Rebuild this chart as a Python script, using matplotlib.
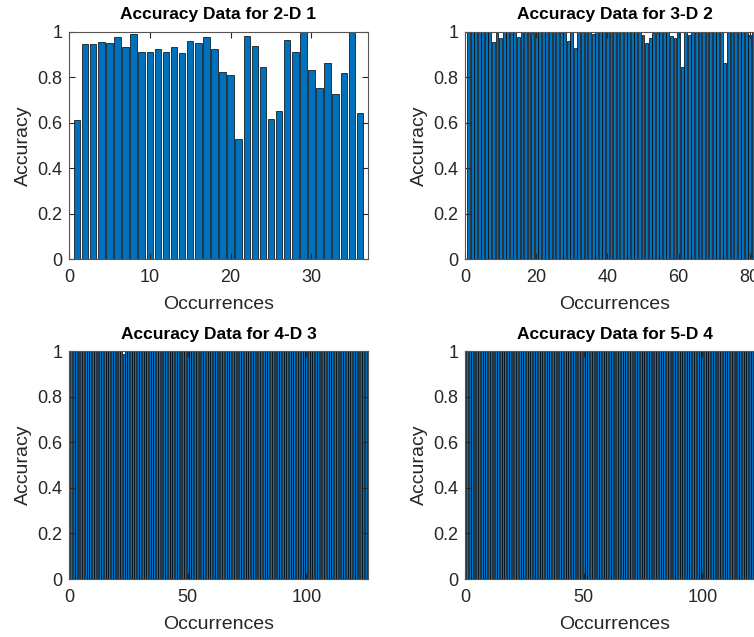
import numpy as np
import matplotlib
matplotlib.use("Agg")
import matplotlib.pyplot as plt

plt.rcParams['font.family'] = ['Liberation Sans', 'DejaVu Sans']

# accuracy per occurrence
acc_2d = [0.612, 0.947, 0.947, 0.954, 0.951, 0.976, 0.934, 0.991, 0.913, 0.913,
          0.927, 0.910, 0.935, 0.906, 0.959, 0.951, 0.976, 0.924, 0.822, 0.811,
          0.529, 0.984, 0.938, 0.846, 0.617, 0.653, 0.966, 0.910, 1.000, 0.833,
          0.755, 0.865, 0.727, 0.818, 1.000, 0.645]

acc_3d = [1, 1, 1, 1, 1, 1, 1, 0.957, 1, 0.972,
          1, 1, 1, 1, 0.977, 1, 1, 1, 0.997, 1,
          1, 1, 1, 1, 1, 1, 1, 1, 0.962, 1,
          0.928, 1, 1, 1, 1, 0.991, 1, 1, 1, 1,
          1, 1, 1, 1, 1, 1, 1, 1, 1, 0.987,
          0.953, 0.972, 0.994, 0.994, 1, 1, 1, 0.982, 0.972, 1,
          0.847, 1, 0.987, 1, 1, 1, 1, 1, 1, 1,
          1, 1, 0.862, 1, 1, 1, 1, 1, 1, 0.987,
          1, 1, 1]

acc_4d = [1, 1, 1, 1, 1, 1, 1, 1, 1, 1,
          1, 1, 1, 1, 1, 1, 1, 1, 1, 1,
          1, 1, 0.988, 1, 1, 1, 1, 1, 1, 1,
          1, 1, 1, 1, 1, 1, 1, 1, 1, 1,
          1, 1, 1, 1, 1, 1, 1, 1, 1, 1,
          1, 1, 1, 1, 1, 1, 1, 0.996, 1, 1,
          1, 1, 1, 1, 1, 1, 1, 1, 1, 1,
          1, 1, 1, 1, 1, 1, 1, 1, 1, 1,
          1, 1, 1, 1, 1, 1, 1, 1, 1, 1,
          1, 1, 1, 1, 1, 1, 1, 1, 1, 1,
          1, 1, 1, 1, 1, 1, 0.995, 1, 1, 1,
          1, 1, 1, 1, 1, 1, 1, 1, 1, 1,
          1, 1, 1, 1, 1]

acc_5d = [1, 1, 1, 1, 1, 1, 1, 1, 1, 1,
          1, 1, 1, 1, 1, 1, 1, 1, 1, 1,
          1, 1, 1, 1, 1, 1, 1, 1, 1, 1,
          1, 1, 1, 1, 1, 1, 1, 1, 1, 1,
          1, 1, 1, 1, 1, 1, 1, 1, 1, 1,
          1, 1, 1, 1, 1, 1, 1, 1, 1, 1,
          1, 1, 1, 1, 1, 1, 1, 1, 1, 1,
          1, 1, 1, 1, 1, 1, 1, 1, 1, 1,
          1, 1, 1, 1, 1, 1, 1, 1, 1, 1,
          1, 1, 1, 1, 1, 1, 1, 1, 1, 1,
          1, 1, 1, 1, 1, 1, 1, 1, 1, 1,
          1, 1, 1, 1, 1, 1, 1, 1, 1, 1,
          1, 1, 1, 1, 1]

titles = ['Accuracy Data for 2-D 1', 'Accuracy Data for 3-D 2',
          'Accuracy Data for 4-D 3', 'Accuracy Data for 5-D 4']
xticks = [[0, 10, 20, 30], [0, 20, 40, 60, 80], [0, 50, 100], [0, 50, 100]]
yticks = [0, 0.2, 0.4, 0.6, 0.8, 1]
ytick_labels = ['0', '0.2', '0.4', '0.6', '0.8', '1']

W, H = 754, 637
fig = plt.figure(figsize=(W / 100, H / 100), dpi=100)
# axes boxes in pixels: left, top, width, height (right column runs past the edge)
boxes = [(69, 32, 299, 227), (465, 32, 299, 227),
         (69, 351, 299, 228), (465, 351, 299, 228)]

axis_col = '#262626'
for data, title, xt, (l, t, w, h) in zip([acc_2d, acc_3d, acc_4d, acc_5d],
                                          titles, xticks, boxes):
    ax = fig.add_axes([l / W, (H - t - h) / H, w / W, h / H])
    x = np.arange(1, len(data) + 1)
    ax.bar(x, data, width=0.8, color='#0072BD', edgecolor='black', linewidth=0.5)
    ax.set_xlim(0, len(data) + 1)
    ax.set_ylim(0, 1)
    ax.set_xticks(xt)
    ax.set_yticks(yticks)
    ax.set_yticklabels(ytick_labels)
    ax.tick_params(direction='in', top=True, right=True, length=4,
                   labelsize=13, colors=axis_col)
    ax.tick_params(axis='x', pad=7.5)
    ax.tick_params(axis='y', pad=4.5)
    for s in ax.spines.values():
        s.set_color('#555555')
        s.set_linewidth(0.8)
    ax.set_title(title, fontsize=12.5, fontweight='bold', pad=9)
    ax.set_xlabel('Occurrences', fontsize=14, color=axis_col, labelpad=7)
    ax.set_ylabel('Accuracy', fontsize=14, color=axis_col, labelpad=4)

fig.savefig('out.png', dpi=100)
